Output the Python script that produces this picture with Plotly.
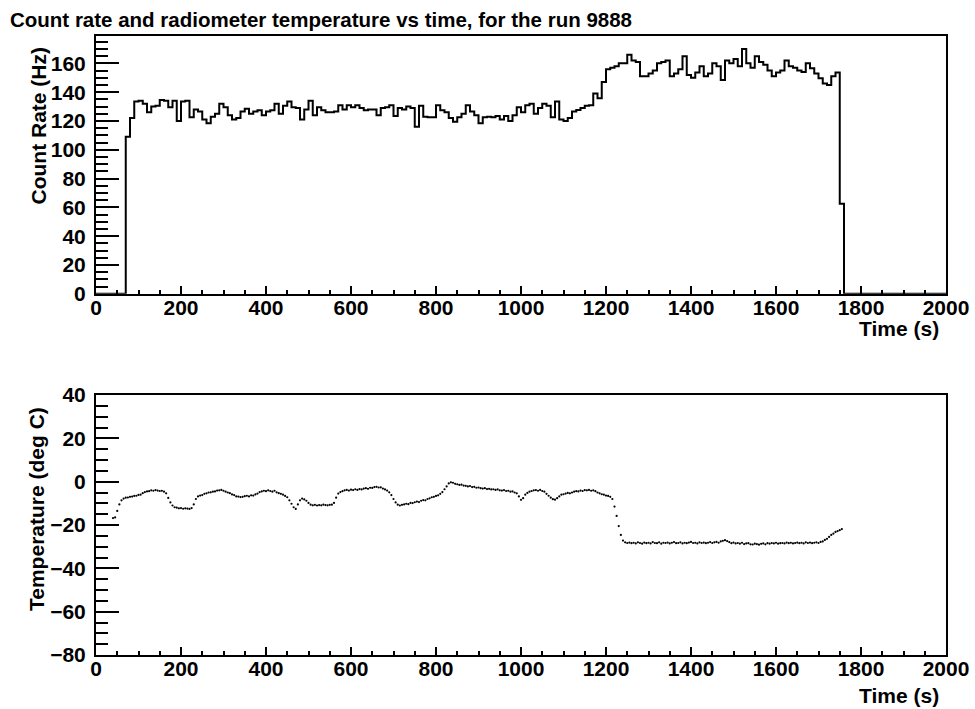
import plotly.graph_objects as go

# ---------------- data ----------------
# Count-rate histogram: 10 s bins, first non-empty bin starts at 70 s
bin_width = 10
first_bin_start = 70
rate_hz = [
    109, 122, 133.5, 134, 132, 126, 130, 130.5, 134.5, 134,
    129.5, 134, 120, 133.5, 134, 122.5, 128, 126.5, 121, 118.5,
    123, 125, 132, 129.5, 124, 121, 122, 126.5, 128.5, 125,
    126.5, 127.5, 124, 126.5, 127.5, 132, 125, 130.5, 133.5, 129.5,
    129, 121, 128, 134, 124, 129.5, 127.5, 126, 126, 126.5,
    131, 128, 131, 129.5, 131, 129, 127.5, 128, 128, 124,
    129, 129.5, 131, 123.5, 129, 128, 130, 129, 116, 130.5,
    123, 122.5, 122.5, 131, 127.5, 126, 122, 119.5, 122.5, 125,
    131, 126.5, 124, 118.5, 122.5, 123, 122.5, 123.5, 121, 123.5,
    120, 124, 129.5, 126, 131, 132, 125, 129, 132, 130.5,
    122.6, 133.5, 121, 120, 122, 126.6, 127.7, 129, 130.5, 131,
    139, 135.8, 147, 156, 157, 158, 160, 160, 166, 162,
    161, 151, 151, 153, 155, 160, 161, 162, 151, 153,
    156, 165, 152, 150, 153.6, 158, 151, 153, 160, 158,
    148.5, 162, 160, 163, 158, 170, 160, 157, 165, 161,
    159, 155, 151, 153.6, 155, 162, 158, 157, 155, 154,
    160, 156.6, 153, 149.6, 146, 145, 151, 153.6, 62.6,
]
hist_x_min = 0
hist_x_max = 2000

# Radiometer temperature, one reading every 5 s starting at 40 s
temp_t0 = 40
temp_dt = 5
temp_degc = [
    -16.8, -16.5, -13.5, -10.5, -8.6, -7.8, -7.4, -7.3, -7.0, -6.9, -6.6, -6.5, -6.1, -6.0, -5.3, -4.8, -4.5, -4.4, -4.0, -4.2,
    -3.9, -4.1, -4.3, -4.2, -4.6, -5.4, -7.5, -9.6, -11.0, -11.8, -12.0, -12.3, -12.2, -12.5, -12.3, -12.4, -12.6, -12.2, -10.5, -8.0,
    -6.8, -6.4, -6.2, -5.6, -5.4, -5.0, -4.9, -4.6, -4.5, -4.1, -4.0, -3.8, -4.2, -4.6, -5.0, -5.3, -5.9, -6.2, -6.8, -6.9,
    -7.1, -7.0, -6.7, -6.5, -6.8, -6.3, -6.4, -5.9, -5.5, -4.8, -4.5, -4.2, -4.4, -4.0, -4.3, -4.6, -4.2, -4.9, -5.3, -5.6,
    -6.0, -6.6, -7.2, -8.6, -10.2, -11.8, -12.6, -10.5, -8.6, -7.8, -8.2, -8.8, -9.8, -10.6, -10.9, -10.7, -11.0, -10.8, -10.9, -10.6,
    -10.8, -10.9, -10.7, -10.6, -9.8, -7.4, -5.5, -4.8, -4.4, -4.0, -3.8, -4.1, -3.7, -3.9, -3.5, -3.8, -3.4, -3.6, -3.2, -3.0,
    -3.3, -2.8, -2.9, -2.5, -2.4, -2.7, -2.6, -3.2, -3.6, -4.1, -4.9, -6.2, -8.0, -9.6, -10.6, -11.0, -10.7, -10.5, -10.2, -10.4,
    -9.8, -9.9, -9.5, -9.2, -9.4, -8.8, -8.5, -8.6, -8.0, -7.7, -7.2, -7.0, -6.6, -6.3, -5.6, -4.8, -3.5, -2.2, -0.8, -0.3,
    -0.5, -1.0, -1.2, -1.5, -1.4, -1.8, -1.9, -2.2, -2.0, -2.5, -2.4, -2.8, -2.7, -3.0, -3.2, -3.0, -3.4, -3.3, -3.6, -3.5,
    -3.8, -3.6, -4.0, -4.1, -3.9, -4.3, -4.2, -4.6, -4.5, -5.0, -5.4, -6.8, -8.4, -7.6, -6.0, -5.2, -4.6, -4.3, -4.0, -3.9,
    -4.2, -3.8, -4.3, -4.6, -5.6, -6.5, -7.4, -8.1, -8.3, -7.6, -6.8, -6.0, -5.8, -5.5, -5.2, -5.4, -5.0, -4.6, -4.4, -4.5,
    -4.1, -4.3, -3.9, -4.0, -3.8, -4.2, -4.0, -4.4, -5.0, -5.4, -5.8, -6.0, -6.4, -6.6, -7.0, -8.0, -11.5, -15.8, -20.5, -24.6,
    -27.2, -28.0, -28.3, -28.1, -28.4, -28.2, -28.5, -28.0, -28.3, -28.6, -28.1, -28.4, -28.2, -28.5, -27.9, -28.3, -28.4, -28.0, -28.6, -28.2,
    -28.3, -28.1, -28.5, -28.2, -27.9, -28.4, -28.3, -28.0, -28.5, -28.2, -28.4, -28.1, -27.8, -28.3, -28.2, -28.5, -28.0, -28.3, -28.1, -28.4,
    -28.2, -27.9, -28.3, -28.0, -27.8, -28.2, -27.6, -27.3, -27.0, -27.4, -27.9, -28.4, -28.1, -28.5, -28.3, -28.6, -28.2, -28.8, -28.5, -28.4,
    -28.9, -29.0, -28.6, -28.8, -29.1, -28.7, -28.5, -28.9, -28.4, -28.6, -28.3, -28.5, -28.2, -28.6, -28.4, -28.3, -28.5, -28.1, -28.4, -28.2,
    -28.5, -28.3, -28.1, -28.4, -28.2, -28.5, -28.0, -28.3, -28.1, -28.4, -28.2, -28.0, -28.3, -27.8, -27.6, -26.9, -26.4, -25.5, -24.6, -24.0,
    -23.2, -22.8, -22.4, -21.9,
]

title_text = "Count rate and radiometer temperature vs time, for the run 9888"
rate_axis_title = "Count Rate (Hz)"
temp_axis_title = "Temperature (deg C)"
time_axis_title = "Time (s)"
rate_range = [0, 179]
temp_range = [-80, 40]

# ---------------- build traces ----------------
n_bins = (hist_x_max - hist_x_min) // bin_width
edges = [hist_x_min + i * bin_width for i in range(n_bins)]
counts = [0.0] * n_bins
i0 = (first_bin_start - hist_x_min) // bin_width
for k, v in enumerate(rate_hz):
    counts[i0 + k] = v
hx = edges + [hist_x_max]
hy = counts + [0.0]

temp_t = [temp_t0 + k * temp_dt for k in range(len(temp_degc))]

W, H = 975, 709
def px(x):
    return x / W
def py(y):
    return 1 - y / H

FONT = "Liberation Sans, Arial, Helvetica, sans-serif"

fig = go.Figure()
fig.add_trace(go.Scatter(
    x=hx, y=hy, mode="lines", line=dict(shape="hv", color="black", width=2),
    xaxis="x", yaxis="y", showlegend=False, hoverinfo="skip",
))
fig.add_trace(go.Scatter(
    x=temp_t, y=temp_degc, mode="markers",
    marker=dict(color="black", size=2.2, line=dict(width=0)),
    xaxis="x2", yaxis="y2", showlegend=False, hoverinfo="skip",
))

tickfont = dict(family=FONT, size=21, color="black", weight="bold")

def xaxis_cfg(anchor):
    return dict(
        domain=[px(96), px(946)], anchor=anchor, range=[0, 2000],
        tickmode="linear", tick0=0, dtick=200,
        ticks="inside", ticklen=8, tickwidth=2, tickcolor="black",
        minor=dict(dtick=50, ticks="inside", ticklen=4, tickwidth=2, tickcolor="black"),
        showline=True, linewidth=2, linecolor="black", mirror=True,
        showgrid=False, zeroline=False, tickfont=tickfont,
        ticklabelstandoff=-6, automargin=False, fixedrange=True,
    )

def yaxis_cfg(anchor, dom, rng):
    return dict(
        domain=dom, anchor=anchor, range=rng,
        tickmode="linear", tick0=0, dtick=20,
        ticks="inside", ticklen=23, tickwidth=2, tickcolor="black",
        minor=dict(dtick=5, ticks="inside", ticklen=12, tickwidth=2, tickcolor="black"),
        showline=True, linewidth=2, linecolor="black", mirror=True,
        showgrid=False, zeroline=False, tickfont=tickfont,
        ticklabelstandoff=4, automargin=False, fixedrange=True,
    )

fig.update_layout(
    width=W, height=H,
    margin=dict(l=0, r=0, t=0, b=0, autoexpand=False),
    paper_bgcolor="white", plot_bgcolor="white",
    template="none",
    xaxis=xaxis_cfg("y"),
    yaxis=yaxis_cfg("x", [py(293.8), py(36)], rate_range),
    xaxis2=xaxis_cfg("y2"),
    yaxis2=yaxis_cfg("x2", [py(655), py(395)], temp_range),
)

ann_font = dict(family=FONT, size=21, color="black", weight="bold")
fig.add_annotation(x=px(8), y=py(20), xref="paper", yref="paper", text=title_text,
                   showarrow=False, xanchor="left", yanchor="middle",
                   font=dict(family=FONT, size=20.5, color="black", weight="bold"))
fig.add_annotation(x=px(38), y=py(46), xref="paper", yref="paper", text=rate_axis_title,
                   textangle=-90, showarrow=False, xanchor="center", yanchor="top", font=ann_font)
fig.add_annotation(x=px(36), y=py(405), xref="paper", yref="paper", text=temp_axis_title,
                   textangle=-90, showarrow=False, xanchor="center", yanchor="top", font=ann_font)
fig.add_annotation(x=px(941), y=py(329), xref="paper", yref="paper", text=time_axis_title,
                   showarrow=False, xanchor="right", yanchor="middle", font=ann_font)
fig.add_annotation(x=px(941), y=py(695), xref="paper", yref="paper", text=time_axis_title,
                   showarrow=False, xanchor="right", yanchor="middle", font=ann_font)

fig.write_html(
    "out.html",
    config={"displayModeBar": False, "staticPlot": True},
    post_script="document.body.style.margin='0';document.body.style.overflow='hidden';",
)
